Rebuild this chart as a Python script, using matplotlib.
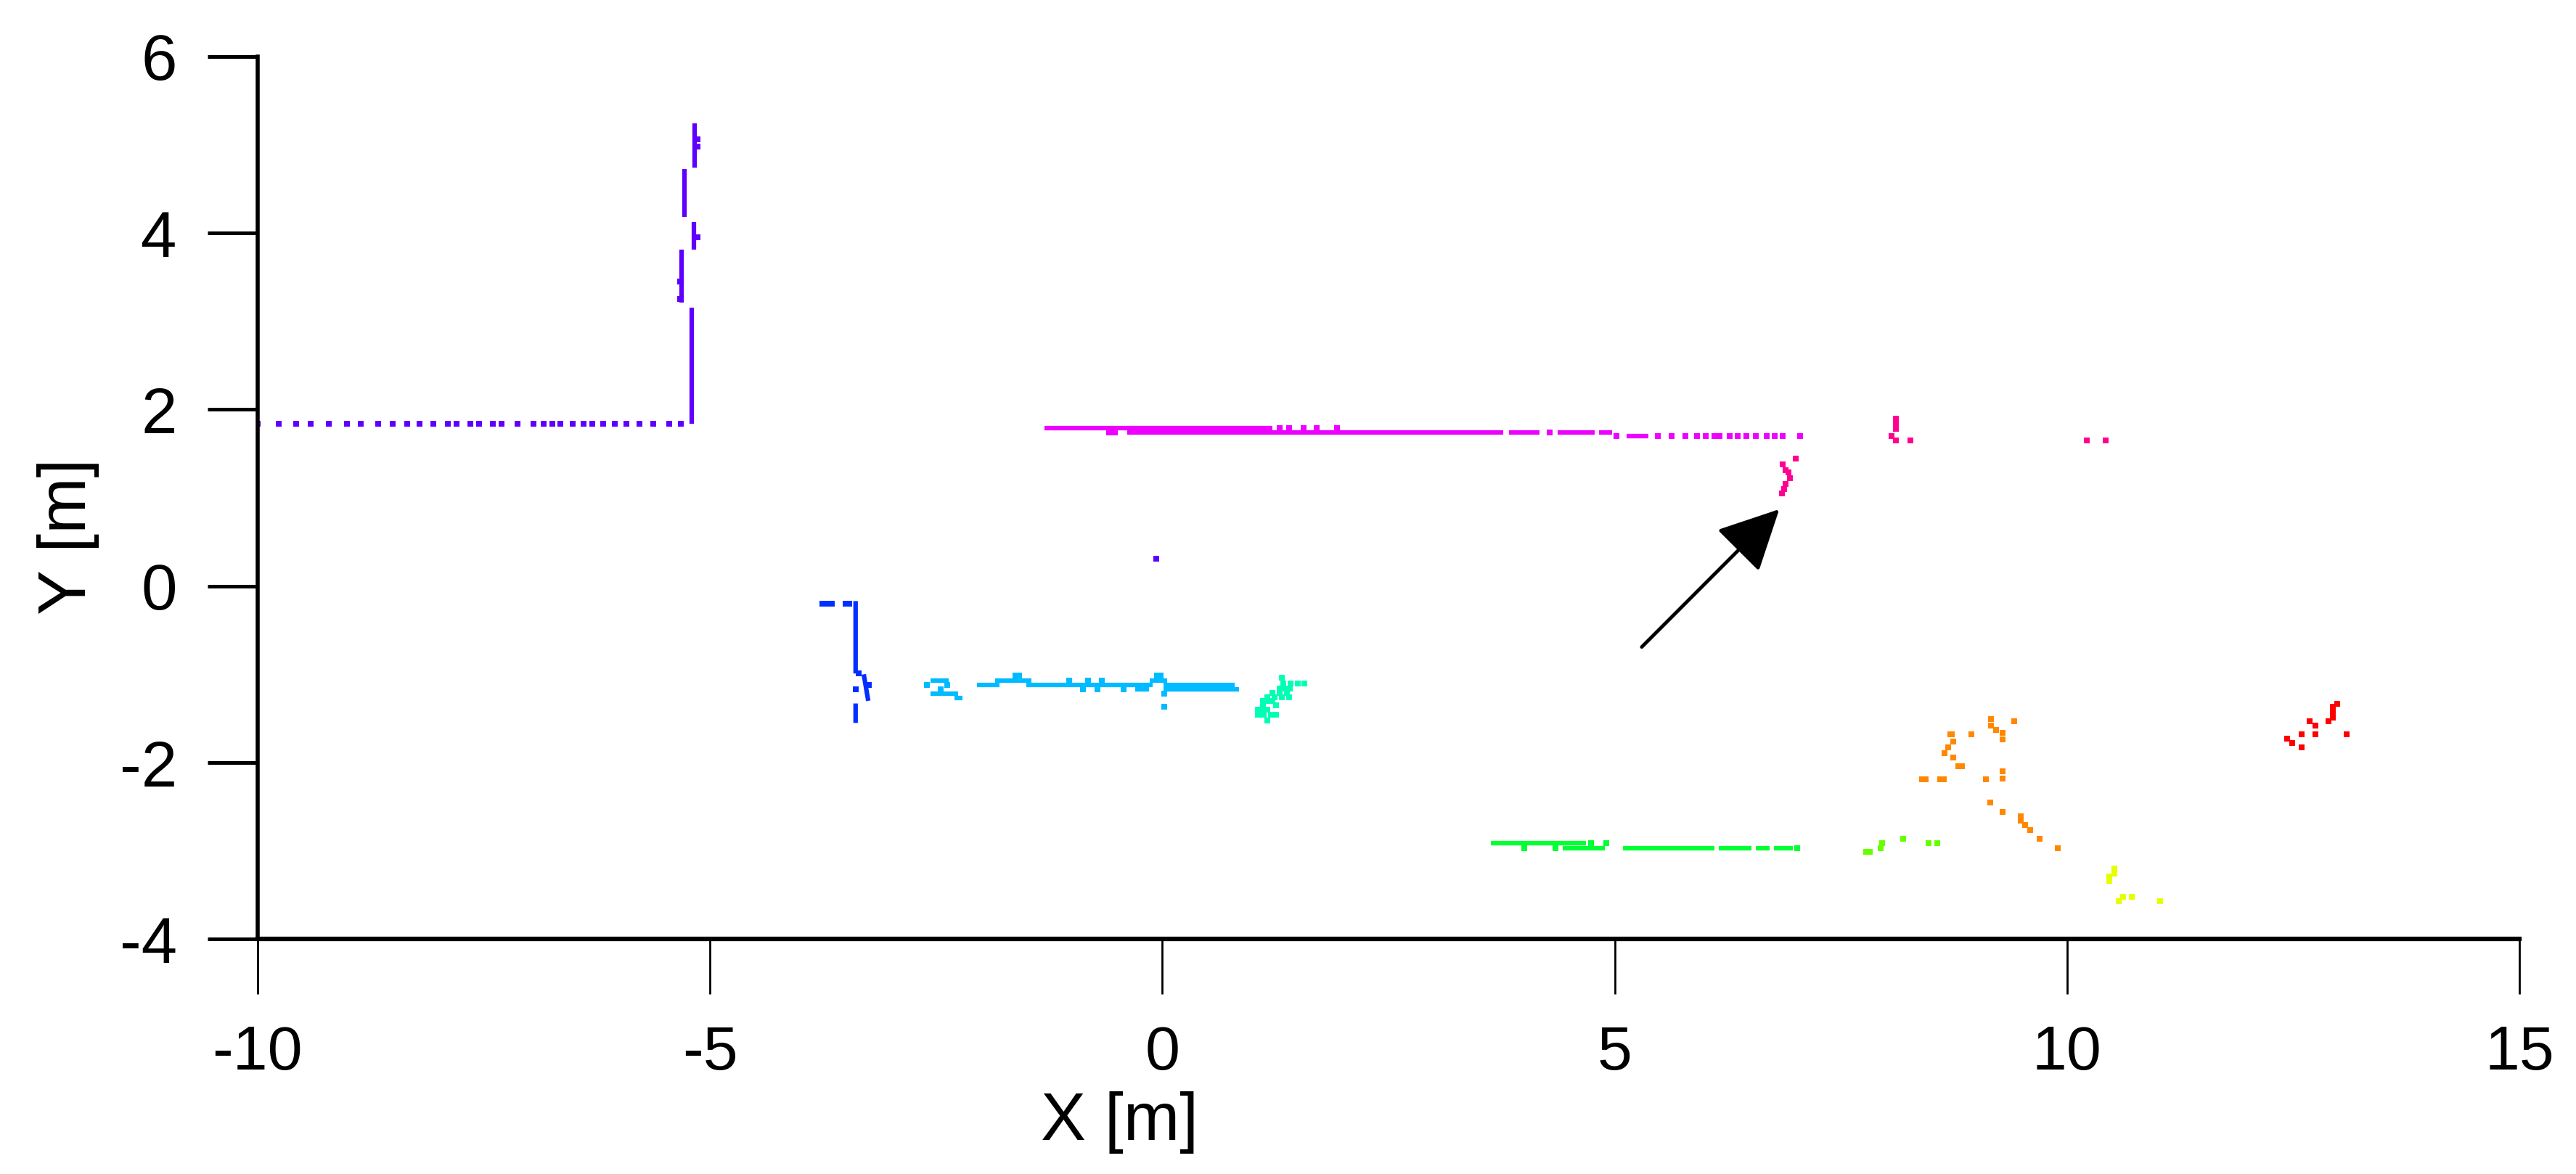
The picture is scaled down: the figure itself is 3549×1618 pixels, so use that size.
import numpy as np
import matplotlib.pyplot as plt

nan = np.nan

# --- scan clusters (segments separated by nan, dots as separate arrays) ---
purple_line_x = [-5.20, -5.20, nan, -5.31, -5.31, nan, -5.18, -5.18, nan,
                 -5.28, -5.28, nan, -5.17, -5.17]
purple_line_y = [1.84, 3.15, nan, 3.21, 3.81, nan, 3.81, 4.12, nan,
                 4.18, 4.72, nan, 4.74, 5.24]
purple_dot_x = [-10.0, -9.77, -9.57, -9.41, -9.21, -9.01, -8.86, -8.67, -8.51, -8.35, -8.21,
                -8.06, -7.90, -7.80, -7.65, -7.55, -7.40, -7.30, -7.13, -6.95, -6.84, -6.74,
                -6.65, -6.52, -6.40, -6.30, -6.18, -6.05, -5.92, -5.78, -5.63, -5.45, -5.32,
                -5.33, -5.33, -5.14, -5.14, -5.14, -0.07]
purple_dot_y = [1.84] * 33 + [3.25, 3.45, 3.95, 4.98, 5.06, 0.31]

blue_line_x = [-3.39, -3.39, nan, -3.30, -3.25, nan, -3.39, -3.39]
blue_line_y = [-0.17, -0.99, nan, -1.00, -1.30, nan, -1.33, -1.55]
blue_dot_x = [-3.76, -3.72, -3.65, -3.50, -3.46, -3.36, -3.24, -3.39]
blue_dot_y = [-0.20, -0.20, -0.20, -0.20, -0.20, -0.99, -1.12, -1.17]

lblue_line_x = [-2.05, -1.80, nan, -1.85, -1.45, nan, -1.50, -0.11, nan, -0.14, 0.05, nan,
                0.01, 0.80, nan, 0.01, 0.85, nan, -0.30, -0.15, nan, -2.56, -2.36, nan,
                -2.56, -2.26, nan, -2.30, -2.21]
lblue_line_y = [-1.12, -1.12, nan, -1.07, -1.07, nan, -1.12, -1.12, nan, -1.07, -1.07, nan,
                -1.12, -1.12, nan, -1.17, -1.17, nan, -1.17, -1.17, nan, -1.07, -1.07, nan,
                -1.22, -1.22, nan, -1.27, -1.27]
lblue_dot_x = [-1.62, -1.58, -0.06, -0.02, -2.60, -2.38, -2.45, -0.88, -0.72, -0.43,
               -1.03, -0.82, -0.67, 0.02, 0.02]
lblue_dot_y = [-1.01, -1.01, -1.01, -1.01, -1.12, -1.12, -1.17, -1.17, -1.17, -1.17,
               -1.07, -1.07, -1.07, -1.22, -1.37]

aqua_x = [1.32, 1.34, 1.42, 1.50, 1.57, 1.30, 1.36, 1.41, 1.22, 1.30, 1.38, 1.16, 1.24,
          1.32, 1.40, 1.11, 1.17, 1.22, 1.11, 1.26, 1.06, 1.11, 1.16, 1.06, 1.12, 1.20, 1.26,
          1.16]
aqua_y = [-1.04, -1.10, -1.10, -1.10, -1.10, -1.16, -1.16, -1.16, -1.21, -1.21, -1.21,
          -1.26, -1.26, -1.26, -1.26, -1.30, -1.30, -1.30, -1.35, -1.35, -1.40, -1.40,
          -1.40, -1.46, -1.46, -1.46, -1.46, -1.52]

magenta_line_x = [-1.30, 1.22, nan, -0.39, 3.77, nan, 3.83, 4.17, nan, 4.37, 4.78, nan,
                  4.83, 4.97, nan, 5.13, 5.37]
magenta_line_y = [1.79, 1.79, nan, 1.74, 1.74, nan, 1.74, 1.74, nan, 1.74, 1.74, nan,
                  1.74, 1.74, nan, 1.70, 1.70]
magenta_dot_x = [1.30, 1.40, 1.56, 1.71, 1.93, -0.59, -0.52, 4.28, 5.02, 5.48, 5.63, 5.78,
                 5.91, 6.01, 6.10, 6.16, 6.27, 6.36, 6.46, 6.56, 6.68, 6.77, 6.86, 7.05]
magenta_dot_y = [1.79] * 5 + [1.74] * 3 + [1.70] * 16

pink_x = [7.00, 6.86, 6.89, 6.92, 6.94, 6.89, 6.87, 6.85, 8.11, 8.11, 8.11, 8.06, 8.11,
          8.27, 10.22, 10.43]
pink_y = [1.44, 1.38, 1.31, 1.29, 1.22, 1.16, 1.10, 1.05, 1.90, 1.84, 1.78, 1.70, 1.65,
          1.65, 1.65, 1.65]

green_line_x = [3.63, 4.68, nan, 4.43, 4.89, nan, 5.09, 6.10, nan, 6.15, 6.51, nan,
                6.56, 6.71, nan, 6.76, 6.97]
green_line_y = [-2.91, -2.91, nan, -2.97, -2.97, nan, -2.97, -2.97, nan, -2.97, -2.97, nan,
                -2.97, -2.97, nan, -2.97, -2.97]
green_dot_x = [4.74, 4.91, 4.00, 4.35, 7.02]
green_dot_y = [-2.91, -2.91, -2.97, -2.97, -2.97]

ygreen_x = [8.19, 7.96, 7.94, 7.78, 7.82, 8.47, 8.57]
ygreen_y = [-2.86, -2.91, -2.97, -3.01, -3.01, -2.91, -2.91]

orange_x = [9.16, 9.16, 9.42, 9.22, 8.71, 8.73, 8.94, 9.29, 9.29, 8.74, 8.69, 8.65, 8.74,
            8.80, 8.84, 9.29, 9.29, 8.40, 8.44, 8.60, 8.64, 9.10, 9.15, 9.29, 9.49, 9.49,
            9.54, 9.59, 9.70, 9.90]
orange_y = [-1.51, -1.58, -1.53, -1.63, -1.68, -1.68, -1.68, -1.66, -1.74, -1.76, -1.83,
            -1.89, -1.94, -2.04, -2.04, -2.10, -2.18, -2.19, -2.19, -2.19, -2.19, -2.19,
            -2.45, -2.56, -2.61, -2.66, -2.71, -2.76, -2.86, -2.97]

yellow_x = [10.52, 10.52, 10.47, 10.47, 10.62, 10.72, 10.57, 11.03]
yellow_y = [-3.20, -3.26, -3.29, -3.34, -3.52, -3.52, -3.57, -3.57]

red_x = [12.99, 12.94, 12.94, 12.94, 12.68, 12.89, 12.75, 12.59, 12.75, 13.09, 12.43,
         12.49, 12.59]
red_y = [-1.33, -1.37, -1.43, -1.49, -1.53, -1.53, -1.58, -1.68, -1.68, -1.68, -1.73,
         -1.78, -1.83]

arrow_tail = (5.30, -0.69)
arrow_head = (6.82, 0.87)

x_ticks = [-10, -5, 0, 5, 10, 15]
y_ticks = [-4, -2, 0, 2, 4, 6]

plt.rcParams['font.family'] = ['Liberation Sans', 'DejaVu Sans']
plt.rcParams['axes.unicode_minus'] = False

fig = plt.figure(figsize=(35.49, 16.18), dpi=100)
ax = fig.add_axes([0.100, 0.200, 0.878, 0.752])

line_sets = [
    (purple_line_x, purple_line_y, '#5F00FF'),
    (blue_line_x, blue_line_y, '#0030FF'),
    (lblue_line_x, lblue_line_y, '#00BBFF'),
    (magenta_line_x, magenta_line_y, '#EE00FF'),
    (green_line_x, green_line_y, '#00FF33'),
]
for lx, ly, c in line_sets:
    ax.plot(lx, ly, color=c, lw=4.5, solid_capstyle='butt')

dot_sets = [
    (purple_dot_x, purple_dot_y, '#5F00FF'),
    (blue_dot_x, blue_dot_y, '#0030FF'),
    (lblue_dot_x, lblue_dot_y, '#00BBFF'),
    (aqua_x, aqua_y, '#00FFB4'),
    (magenta_dot_x, magenta_dot_y, '#EE00FF'),
    (pink_x, pink_y, '#FF0090'),
    (green_dot_x, green_dot_y, '#00FF33'),
    (ygreen_x, ygreen_y, '#66FF00'),
    (orange_x, orange_y, '#FF8800'),
    (yellow_x, yellow_y, '#E5FF00'),
    (red_x, red_y, '#FF0000'),
]
for dx, dy, c in dot_sets:
    ax.scatter(dx, dy, s=26, marker='s', color=c, linewidths=0)

ax.annotate('', xy=arrow_head, xytext=arrow_tail,
            arrowprops=dict(arrowstyle='-|>,head_length=5.2,head_width=2.6',
                            mutation_scale=10, shrinkA=0, shrinkB=0,
                            color='black', lw=3.5))

ax.set_xlim(-10, 15)
ax.set_ylim(-4, 6)
ax.set_xticks(x_ticks)
ax.set_yticks(y_ticks)
ax.spines['top'].set_visible(False)
ax.spines['right'].set_visible(False)
ax.spines['left'].set_linewidth(4)
ax.spines['bottom'].set_linewidth(4.5)
ax.tick_params(axis='y', direction='out', length=50, width=3.6, pad=30, labelsize=64)
ax.tick_params(axis='x', direction='out', length=55, width=2, pad=30, labelsize=62)

ax.set_xlabel('X [m]', fontsize=67)
ax.set_ylabel('Y [m]', fontsize=67)
ax.xaxis.set_label_coords(0.381, -0.172)
ax.yaxis.set_label_coords(-0.070, 0.456)

fig.savefig('out.png', dpi=100, facecolor='white')
